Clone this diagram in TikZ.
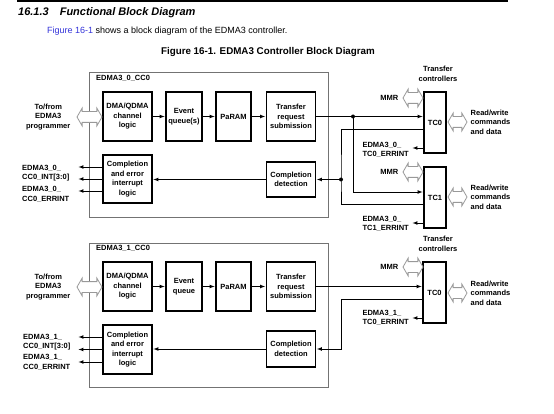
\documentclass[tikz,border=0pt]{standalone}
\usepackage{fontspec}
\setmainfont{Liberation Sans}
\usetikzlibrary{shapes.arrows,positioning}
\definecolor{linkblue}{rgb}{0.2,0.2,0.85}

\begin{document}
\begin{tikzpicture}
  [
    x                 = 1pt,
    y                 = -1pt,
    every node/.style = {font=\bfseries\fontsize{7.5}{9.5}\selectfont, inner sep=0pt, align=center},
    block/.style      = {draw, line width=1.8pt, minimum width=49pt, minimum height=49pt},
    ccframe/.style    = {draw=black!55, line width=0.9pt},
    link/.style       = {draw, line width=0.7pt, -latex, shorten >=0.5pt},
    wire/.style       = {draw, line width=0.7pt},
    port/.style       = {double arrow, draw=black!40, line width=0.8pt, fill=white,
                         double arrow tip angle=120, double arrow head extend=3.5pt,
                         text height=5pt, text depth=5pt, text width=0pt,
                         minimum height=20pt},
    junction/.style   = {circle, fill, minimum size=4pt}
  ]
  \useasboundingbox (0,0) rectangle (554,414);

  % page heading
  \fill (17,0) rectangle (508,2.5);
  \node[anchor=west, font=\bfseries\itshape\fontsize{11}{13}\selectfont] (sect) at (18,13)
    {16.1.3\quad Functional Block Diagram};
  \node[anchor=west, font=\fontsize{9}{11}\selectfont] (intro) at (47,31)
    {\textcolor{linkblue}{Figure 16-1} shows a block diagram of the EDMA3 controller.};
  \node[font=\bfseries\fontsize{9.8}{12}\selectfont] (caption) at (268,52)
    {Figure 16-1. EDMA3 Controller Block Diagram};

  % channel controller 0
  \draw[ccframe] (89,72) rectangle (328,217);
  \node[anchor=west] (cc0lbl) at (96,78) {EDMA3\_0\_CC0};
  \node[block] (dma0) at (127.5,116.5) {DMA/QDMA\\channel\\logic};
  \node[block, minimum width=36pt] (evq0) at (184,116.5) {Event\\queue(s)};
  \node[block, minimum width=35pt] (par0) at (233.5,116.5) {PaRAM};
  \node[block] (trs0) at (291,116.5) {Transfer\\request\\submission};
  \node[block, minimum height=48pt] (cei0) at (127.5,179) {Completion\\and error\\interrupt\\logic};
  \node[block, minimum height=35pt] (cd0) at (291,179.5) {Completion\\detection};

  % transfer controllers of CC0
  \node (tcl0) at (438,74) {Transfer\\controllers};
  \node[block, minimum width=22pt, minimum height=61pt] (tc0a) at (435,122.5) {TC0};
  \node[block, minimum width=22pt, minimum height=61pt] (tc1a) at (435,197.5) {TC1};
  \node[port] (mmr0a) at (413,98) {};
  \node[left=4pt of mmr0a] (mmrl0a) {MMR};
  \node[port, minimum height=19pt] (rw0a) at (457.5,122) {};
  \node[right=3pt of rw0a, align=left] (rwl0a) {Read/write\\commands\\and data};
  \node[port] (mmr1a) at (413,172) {};
  \node[left=4pt of mmr1a] (mmrl1a) {MMR};
  \node[port, minimum height=19pt] (rw1a) at (457.5,197) {};
  \node[right=3pt of rw1a, align=left] (rwl1a) {Read/write\\commands\\and data};
  \node[anchor=east, align=left] (err0a) at (409,150) {EDMA3\_0\_\\TC0\_ERRINT};
  \node[anchor=east, align=left] (err1a) at (409,224) {EDMA3\_0\_\\TC1\_ERRINT};

  % programmer side of CC0
  \node[port, minimum height=25pt] (prog0) at (89.5,117) {};
  \node[left=6pt of prog0] (progl0) {To/from\\EDMA3\\programmer};
  \node[anchor=west, align=left] (int0) at (22,173) {EDMA3\_0\_\\CC0\_INT[3:0]};
  \node[anchor=west, align=left] (errcc0) at (22,194.5) {EDMA3\_0\_\\CC0\_ERRINT};
  \coordinate (out0) at (78,179);

  \node[junction] (fork0) at (353,116.5) {};
  \node[junction] (join0) at (341,179.5) {};

  \draw[link] (dma0) -- (evq0);
  \draw[link] (evq0) -- (par0);
  \draw[link] (par0) -- (trs0);
  \draw[link] (trs0) -- (trs0 -| tc0a.west);
  \draw[link] (fork0.center) |- ([yshift=5.5pt]tc1a.west);
  \draw[wire] ([yshift=-6.5pt]tc0a.west) -| (join0.center) |- ([yshift=-6.5pt]tc1a.west);
  \draw[link] (join0.center) -- (join0 -| cd0.east);
  \draw[link] ([yshift=-25.5pt]tc0a.west) -- ([xshift=3pt, yshift=2pt]err0a.east);
  \draw[link] ([yshift=-25.5pt]tc1a.west) -- ([xshift=3pt, yshift=1pt]err1a.east);
  \draw[link] (cd0) -- (cd0 -| cei0.east);
  \draw[link] ([yshift=12pt]cei0.west) -- ([yshift=12pt]cei0.west -| out0);
  \draw[link] (cei0.west) -- (cei0.west -| out0);
  \draw[link] ([yshift=-12pt]cei0.west) -- ([yshift=-12pt]cei0.west -| out0);

  % channel controller 1
  \draw[ccframe] (89,243) rectangle (328,387);
  \node[anchor=west] (cc1lbl) at (96,248) {EDMA3\_1\_CC0};
  \node[block] (dma1) at (127.5,286.5) {DMA/QDMA\\channel\\logic};
  \node[block, minimum width=36pt] (evq1) at (184,286.5) {Event\\queue};
  \node[block, minimum width=35pt] (par1) at (233.5,286.5) {PaRAM};
  \node[block] (trs1) at (291,286.5) {Transfer\\request\\submission};
  \node[block] (cei1) at (127.5,349.5) {Completion\\and error\\interrupt\\logic};
  \node[block, minimum height=36pt] (cd1) at (291,349) {Completion\\detection};

  % transfer controller of CC1
  \node (tcl1) at (438,244) {Transfer\\controllers};
  \node[block, minimum width=23pt, minimum height=61pt] (tc0b) at (434.5,292.5) {TC0};
  \node[port] (mmr0b) at (413,267) {};
  \node[left=4pt of mmr0b] (mmrl0b) {MMR};
  \node[port, minimum height=19pt] (rw0b) at (457.5,293) {};
  \node[right=3pt of rw0b, align=left] (rwl0b) {Read/write\\commands\\and data};
  \node[anchor=east, align=left] (err0b) at (409,318) {EDMA3\_1\_\\TC0\_ERRINT};

  % programmer side of CC1
  \node[port, minimum height=25pt] (prog1) at (89.5,287) {};
  \node[left=6pt of prog1] (progl1) {To/from\\EDMA3\\programmer};
  \node[anchor=west, align=left] (int1) at (23,342) {EDMA3\_1\_\\CC0\_INT[3:0]};
  \node[anchor=west, align=left] (errcc1) at (23,362.5) {EDMA3\_1\_\\CC0\_ERRINT};
  \coordinate (out1) at (78,349.5);
  \coordinate (bend1) at (341,349);

  \draw[link] (dma1) -- (evq1);
  \draw[link] (evq1) -- (par1);
  \draw[link] (par1) -- (trs1);
  \draw[link] (trs1) -- (trs1 -| tc0b.west);
  \draw[link] ([yshift=-6.5pt]tc0b.west) -| (bend1) -- (cd1.east);
  \draw[link] ([yshift=-25.5pt]tc0b.west) -- ([xshift=3pt]err0b.east);
  \draw[link] (cd1) -- (cd1 -| cei1.east);
  \draw[link] ([yshift=12.5pt]cei1.west) -- ([yshift=12.5pt]cei1.west -| out1);
  \draw[link] (cei1.west) -- (cei1.west -| out1);
  \draw[link] ([yshift=-12.5pt]cei1.west) -- ([yshift=-12.5pt]cei1.west -| out1);
\end{tikzpicture}
\end{document}
